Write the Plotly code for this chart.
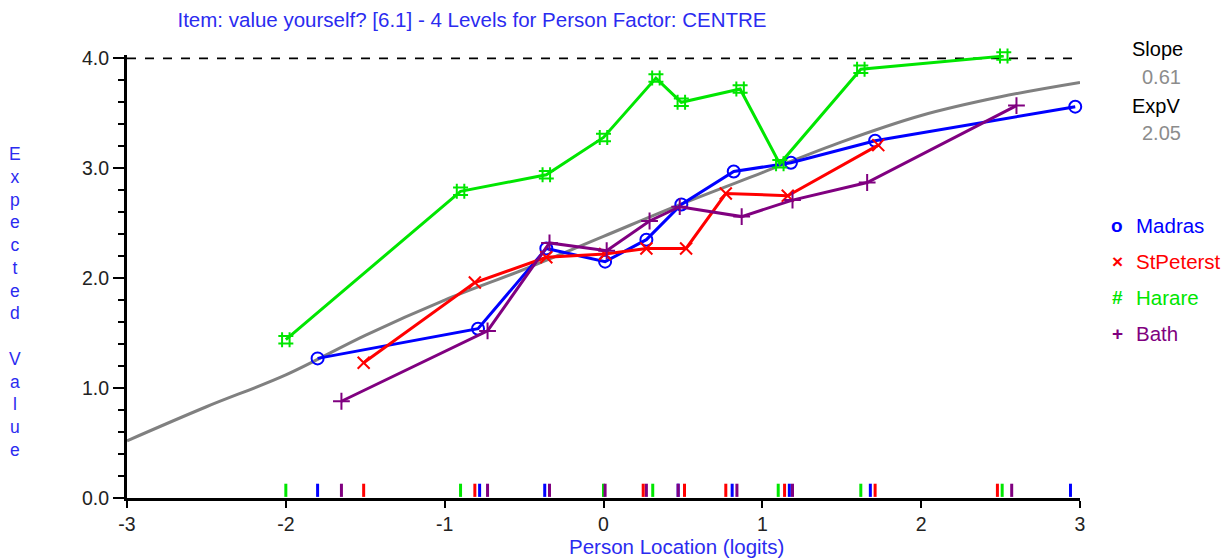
import plotly.graph_objects as go

# observed class-interval means per group (x = person location, y = mean score)
madras_x = [-1.80, -0.79, -0.36, 0.01, 0.27, 0.49, 0.82, 1.18, 1.71, 2.97]
madras_y = [1.27, 1.54, 2.27, 2.15, 2.35, 2.67, 2.97, 3.05, 3.25, 3.56]

stpet_x = [-1.51, -0.81, -0.36, 0.01, 0.27, 0.52, 0.77, 1.16, 1.73]
stpet_y = [1.23, 1.96, 2.19, 2.22, 2.27, 2.27, 2.77, 2.75, 3.21]

harare_x = [-2.00, -0.90, -0.36, 0.00, 0.33, 0.49, 0.86, 1.11, 1.62, 2.52]
harare_y = [1.44, 2.79, 2.94, 3.28, 3.82, 3.60, 3.72, 3.04, 3.90, 4.02]

bath_x = [-1.65, -0.73, -0.34, 0.02, 0.29, 0.48, 0.87, 1.19, 1.66, 2.60]
bath_y = [0.88, 1.52, 2.32, 2.25, 2.52, 2.65, 2.56, 2.71, 2.87, 3.57]

# expected value curve
icc_x = [-3, -2.5, -2, -1.5, -1, -0.5, 0, 0.5, 1, 1.5, 2, 2.5, 3]
icc_y = [0.52, 0.83, 1.12, 1.48, 1.80, 2.08, 2.38, 2.68, 2.96, 3.24, 3.48, 3.65, 3.78]

# person location rug marks along the x axis
rug_madras = [-1.80, -0.78, -0.37, 0.47, 0.81, 1.17, 1.68, 2.94]
rug_stpet = [-1.51, -0.81, 0.25, 0.51, 0.77, 1.14, 1.71, 2.48]
rug_harare = [-2.00, -0.90, 0.00, 0.31, 1.10, 1.62, 2.51]
rug_bath = [-1.65, -0.73, -0.34, 0.01, 0.27, 0.47, 0.84, 1.19, 2.57]

groups = ['Madras', 'StPeterst', 'Harare', 'Bath']
colors = ['#0000FF', '#FF0000', '#00E600', '#800080']
symbols = ['circle-open', 'x-thin-open', 'hash-open', 'cross-thin-open']
msizes = [12, 12, 15, 12]
legend_glyph = ['o', '×', '#', '+']

FONT = 'Liberation Sans, Arial, sans-serif'
BLUE_TXT = '#2b2bf0'
W, H = 1226, 558
pl, pr, pt, pb = 127, 146, 55, 60

fig = go.Figure()

# top dashed line at max score
fig.add_trace(go.Scatter(x=[-3, 3], y=[4, 4], mode='lines',
                         line=dict(color='black', width=1.8, dash='dash'),
                         hoverinfo='skip', showlegend=False))

fig.add_trace(go.Scatter(x=icc_x, y=icc_y, mode='lines',
                         line=dict(color='#808080', width=3, shape='spline'),
                         showlegend=False))

series = [(madras_x, madras_y), (stpet_x, stpet_y), (harare_x, harare_y), (bath_x, bath_y)]
for (xs, ys), name, col, sym, ms in zip(series, groups, colors, symbols, msizes):
    fig.add_trace(go.Scatter(x=xs, y=ys, mode='lines+markers', name=name,
                             line=dict(color=col, width=3),
                             marker=dict(symbol=sym, size=ms, color=col,
                                         line=dict(color=col, width=2)),
                             cliponaxis=False, showlegend=False))

# rug ticks
for rug, col in zip([rug_harare, rug_madras, rug_bath, rug_stpet],
                    [colors[2], colors[0], colors[3], colors[1]]):
    rx, ry = [], []
    for v in rug:
        rx += [v, v, None]
        ry += [0.01, 0.13, None]
    fig.add_trace(go.Scatter(x=rx, y=ry, mode='lines',
                             line=dict(color=col, width=3),
                             hoverinfo='skip', showlegend=False))

# annotations placed in page pixels, converted to paper coords below
annotations = [
    dict(text='<br>'.join(list('Expected') + [' '] + list('Value')),
         x=15, y=302, font=dict(size=17.5, color=BLUE_TXT)),
    dict(text='Person Location (logits)', x=676, y=546,
         font=dict(size=20.5, color=BLUE_TXT)),
    dict(text='Slope', x=1157, y=49, font=dict(size=20, color='black')),
    dict(text='0.61', x=1161, y=77, font=dict(size=20, color='#8c8c8c')),
    dict(text='ExpV', x=1156, y=106, font=dict(size=20, color='black')),
    dict(text='2.05', x=1161, y=133, font=dict(size=20, color='#8c8c8c')),
]
for i, (name, col, g) in enumerate(zip(groups, colors, legend_glyph)):
    ypx = 225 + i * 36
    annotations.append(dict(text='<b>' + g + '</b>', x=1117, y=ypx,
                            font=dict(size=19, color=col)))
    annotations.append(dict(text=name, x=1134, y=ypx, xanchor='left',
                            font=dict(size=20.5, color=col)))

pw, ph = W - pl - pr, H - pt - pb
for a in annotations:
    a['x'] = (a['x'] - pl) / pw
    a['y'] = 1 - (a['y'] - pt) / ph
    a.setdefault('xanchor', 'center')
    a['yanchor'] = 'middle'
    a['xref'] = 'paper'
    a['yref'] = 'paper'
    a['showarrow'] = False
    a['font']['family'] = FONT

fig.update_layout(
    width=W, height=H,
    margin=dict(l=pl, r=pr, t=pt, b=pb, autoexpand=False),
    plot_bgcolor='white', paper_bgcolor='white',
    font=dict(family=FONT, size=19, color='#222222'),
    title=dict(text='Item: value yourself? [6.1] - 4 Levels for Person Factor: CENTRE',
               x=472 / W, xanchor='center', y=1 - 20 / H, yanchor='middle',
               xref='container', yref='container',
               font=dict(size=20.5, color=BLUE_TXT, family=FONT)),
    xaxis=dict(range=[-3, 3], tickvals=[-3, -2, -1, 0, 1, 2, 3],
               ticktext=['-3', '-2', '-1', '0', '1', '2', '3'],
               showgrid=False, zeroline=False, showline=True, linecolor='black',
               linewidth=3, ticks='outside', ticklen=7, tickwidth=2, tickcolor='black',
               tickfont=dict(size=19.5, color='#222222')),
    yaxis=dict(range=[0, 4.03], tickvals=[0, 1, 2, 3, 4],
               ticktext=['0.0', '1.0', '2.0', '3.0', '4.0'],
               showgrid=False, zeroline=False, showline=True, linecolor='black',
               linewidth=3, ticks='outside', ticklen=11, tickwidth=2, tickcolor='black',
               tickfont=dict(size=19.5, color='#222222'),
               minor=dict(tickvals=[0.2, 0.4, 0.6, 0.8, 1.2, 1.4, 1.6, 1.8, 2.2, 2.4,
                                    2.6, 2.8, 3.2, 3.4, 3.6, 3.8],
                          ticks='outside', ticklen=6, tickwidth=2,
                          tickcolor='black', showgrid=False)),
    showlegend=False,
    annotations=annotations,
)

fig.write_html('out.html', config={'displayModeBar': False},
               post_script="document.body.style.margin='0';")
